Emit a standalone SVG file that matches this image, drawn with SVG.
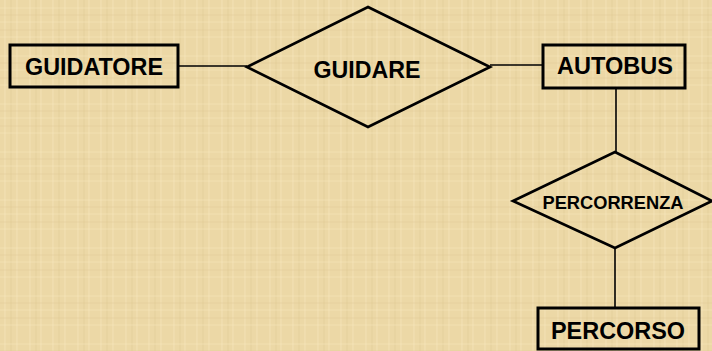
<svg xmlns="http://www.w3.org/2000/svg" width="712" height="351" viewBox="0 0 712 351">
<style>
.ent{fill:none;stroke:#000;stroke-width:3}
.rel{fill:none;stroke:#000;stroke-width:2.7;stroke-linejoin:miter}
.con{stroke:#000;stroke-width:1.6;fill:none}
.t{font-family:"Liberation Sans",Arial,sans-serif;font-weight:bold;fill:#000;text-anchor:middle}
</style>
<defs>
<pattern id="tex" width="48" height="48" patternUnits="userSpaceOnUse">
<rect width="48" height="48" fill="#ecd8a6"/>
<path d="M5 0V48M17 0V48M30 0V48M41 0V48" stroke="#f6e6bd" stroke-width="1" opacity="0.6"/>
<path d="M11 0V48M36 0V48" stroke="#d9c08a" stroke-width="1" opacity="0.35"/>
<path d="M0 8H48M0 22H48M0 37H48" stroke="#f6e6bd" stroke-width="1" opacity="0.5"/>
<path d="M0 15H48M0 30H48" stroke="#d9c08a" stroke-width="1" opacity="0.3"/>
</pattern>
</defs>
<rect width="712" height="351" fill="url(#tex)"/>
<g id="connectors">
<line class="con" x1="178" y1="66" x2="247" y2="66"/>
<line class="con" x1="490" y1="65" x2="543" y2="65"/>
<line class="con" x1="616" y1="88" x2="616" y2="152"/>
<line class="con" x1="615" y1="248" x2="615" y2="308"/>
</g>
<g id="GUIDATORE">
<rect class="ent" x="10" y="45" width="168" height="42"/>
<text class="t" x="94" y="75" font-size="23.5" textLength="138" lengthAdjust="spacingAndGlyphs">GUIDATORE</text>
</g>
<g id="GUIDARE">
<polygon class="rel" points="368,7 490,67 368,127 247,67"/>
<text class="t" x="367" y="78" font-size="23.5" textLength="107" lengthAdjust="spacingAndGlyphs">GUIDARE</text>
</g>
<g id="AUTOBUS">
<rect class="ent" x="543" y="45" width="142" height="43"/>
<text class="t" x="615" y="74" font-size="23.5" textLength="116" lengthAdjust="spacingAndGlyphs">AUTOBUS</text>
</g>
<g id="PERCORRENZA">
<polygon class="rel" points="615,152 712,201 615,248 513,201"/>
<text class="t" x="613" y="209" font-size="18.5" textLength="141" lengthAdjust="spacingAndGlyphs">PERCORRENZA</text>
</g>
<g id="PERCORSO">
<rect class="ent" x="538" y="308" width="161" height="41"/>
<text class="t" x="618" y="339" font-size="23.5" textLength="134" lengthAdjust="spacingAndGlyphs">PERCORSO</text>
</g>
</svg>
